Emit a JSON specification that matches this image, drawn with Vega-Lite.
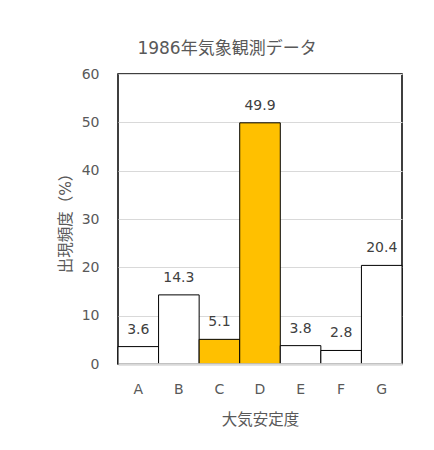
{
  "$schema": "https://vega.github.io/schema/vega-lite/v6.json",
  "width": 284,
  "height": 290,
  "autosize": {"type": "none"},
  "padding": {"left": 118, "top": 74, "right": 32, "bottom": 86},
  "background": "white",
  "title": {
    "text": "1986年気象観測データ",
    "fontSize": 17,
    "fontWeight": "normal",
    "color": "#595959",
    "anchor": "middle",
    "baseline": "bottom",
    "dx": -33,
    "offset": -8
  },
  "data": {
    "values": [
      {"cat": "A", "v": 3.6},
      {"cat": "B", "v": 14.3},
      {"cat": "C", "v": 5.1},
      {"cat": "D", "v": 49.9},
      {"cat": "E", "v": 3.8},
      {"cat": "F", "v": 2.8},
      {"cat": "G", "v": 20.4}
    ]
  },
  "encoding": {
    "x": {
      "field": "cat",
      "type": "nominal",
      "title": "大気安定度",
      "scale": {"paddingInner": 0, "paddingOuter": 0},
      "axis": {
        "labelAngle": 0,
        "ticks": false,
        "domainColor": "#D9D9D9",
        "domainWidth": 2.5,
        "labelPadding": 18,
        "labelFontSize": 14,
        "labelColor": "#595959",
        "titleFontSize": 15.5,
        "titleFontWeight": "normal",
        "titleColor": "#595959",
        "titlePadding": 16,
        "zindex": 1
      }
    },
    "y": {
      "field": "v",
      "type": "quantitative",
      "title": "出現頻度（%）",
      "scale": {"domain": [0, 60], "nice": false},
      "axis": {
        "values": [0, 10, 20, 30, 40, 50, 60],
        "grid": true,
        "gridColor": "#D9D9D9",
        "gridWidth": 1,
        "domain": false,
        "ticks": false,
        "labelPadding": 19,
        "labelFontSize": 14,
        "labelColor": "#595959",
        "titleFontSize": 15.5,
        "titleFontWeight": "normal",
        "titleColor": "#595959",
        "titlePadding": 8
      }
    }
  },
  "layer": [
    {
      "mark": {"type": "bar", "stroke": "black", "strokeWidth": 1},
      "encoding": {
        "color": {
          "condition": {"test": "datum.cat === 'C' || datum.cat === 'D'", "value": "#FFC000"},
          "value": "white"
        }
      }
    },
    {
      "mark": {"type": "text", "dy": -17, "baseline": "middle", "fontSize": 14, "color": "#404040"},
      "encoding": {
        "text": {"field": "v", "type": "quantitative", "format": ".1f"}
      }
    }
  ],
  "config": {
    "font": "DejaVu Sans, Noto Sans CJK JP",
    "view": {"stroke": "black", "strokeWidth": 1.5}
  }
}
